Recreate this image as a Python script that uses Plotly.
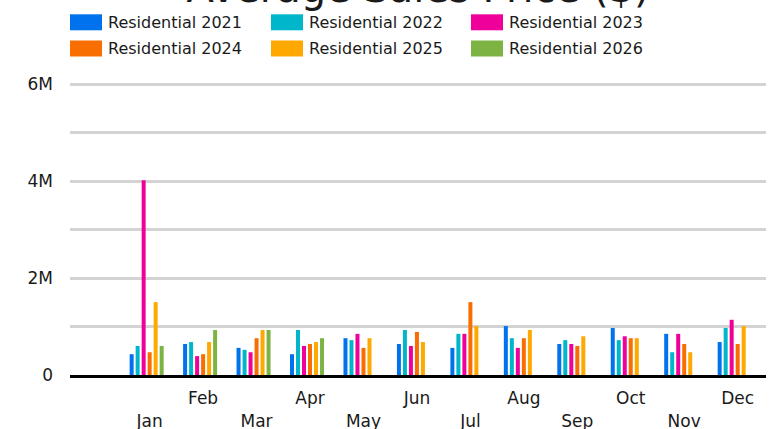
import plotly.graph_objects as go

# Monthly average residential sales price, one series per year
months = ["Jan", "Feb", "Mar", "Apr", "May", "Jun",
          "Jul", "Aug", "Sep", "Oct", "Nov", "Dec"]

series_names = ["Residential 2021", "Residential 2022", "Residential 2023",
                "Residential 2024", "Residential 2025", "Residential 2026"]

price_2021 = [430000, 640000, 560000, 430000, 760000, 640000,
              560000, 1010000, 640000, 970000, 850000, 680000]
price_2022 = [600000, 680000, 520000, 930000, 720000, 930000,
              850000, 760000, 720000, 720000, 470000, 970000]
price_2023 = [4020000, 390000, 470000, 600000, 850000, 600000,
              850000, 560000, 640000, 800000, 850000, 1140000]
price_2024 = [470000, 430000, 760000, 640000, 560000, 890000,
              1505000, 760000, 600000, 760000, 640000, 640000]
price_2025 = [1505000, 680000, 930000, 680000, 760000, 680000,
              1010000, 930000, 800000, 760000, 470000, 1010000]
price_2026 = [600000, 930000, 930000, 760000, None, None,
              None, None, None, None, None, None]

series_values = [price_2021, price_2022, price_2023,
                 price_2024, price_2025, price_2026]

series_colors = ["#0072EE", "#00B6CB", "#F0009B", "#F96E00", "#FFA800", "#7CB342"]

y_tick_vals = [0, 2000000, 4000000, 6000000]
y_tick_text = ["0", "2M", "4M", "6M"]

FONT = "DejaVu Sans"
TEXT = "#1a1a1a"

W, H = 776, 429
M_L, M_R, M_T, M_B = 70, 10, 83, 54
PW, PH = W - M_L - M_R, H - M_T - M_B

# each month holds seven equal slots; bars fill the first six
slot = 0.1123
bar_w = 0.0748
group_left = -3.5 * slot

fig = go.Figure()
for i, (name, vals, col) in enumerate(zip(series_names, series_values, series_colors)):
    fig.add_trace(go.Bar(
        x=months, y=vals, name=name,
        marker=dict(color=col, line=dict(width=0)),
        width=bar_w,
        offset=group_left + i * slot + (slot - bar_w) / 2,
        showlegend=False,
    ))

# two-row legend drawn as swatches and labels (pixel positions -> paper)
def px_x(x):
    return (x - M_L) / PW

def px_y(y):
    return 1 + (M_T - y) / PH

legend_cols = [70, 271, 471]
legend_rows = [22.3, 48.5]
for i, (name, col) in enumerate(zip(series_names, series_colors)):
    cx = legend_cols[i % 3]
    cy = legend_rows[i // 3]
    fig.add_shape(type="rect", xref="paper", yref="paper",
                  x0=px_x(cx), x1=px_x(cx + 32),
                  y0=px_y(cy + 8), y1=px_y(cy - 8),
                  fillcolor=col, line=dict(width=0), layer="above")
    fig.add_annotation(xref="paper", yref="paper",
                       x=px_x(cx + 36), y=px_y(cy),
                       xanchor="left", yanchor="middle", showarrow=False,
                       text=name, font=dict(family=FONT, size=16, color=TEXT))

# alternate month labels between two rows
tick_text = [("<br>" + m) if k % 2 == 0 else m for k, m in enumerate(months)]

fig.update_layout(
    width=W, height=H,
    margin=dict(l=M_L, r=M_R, t=M_T, b=M_B),
    paper_bgcolor="white", plot_bgcolor="white",
    barmode="group",
    title=dict(text="Average Sales Price ($)",
               font=dict(family=FONT, size=40, color=TEXT),
               x=0.5, xref="paper", xanchor="center",
               y=1 - 2 / H, yref="container", yanchor="bottom"),
    font=dict(family=FONT, size=17, color=TEXT),
    xaxis=dict(type="category", range=[-1.49, 11.53], automargin=False,
               tickmode="array", tickvals=months, ticktext=tick_text,
               showgrid=False, showline=True, linecolor="black", linewidth=3,
               ticks="", ticklabelstandoff=6,
               tickfont=dict(family=FONT, size=17, color=TEXT)),
    yaxis=dict(range=[0, 6030000], automargin=False, tickmode="array",
               tickvals=y_tick_vals, ticktext=y_tick_text,
               showgrid=True, gridcolor="#D3D3D3", gridwidth=3,
               minor=dict(dtick=1000000, showgrid=True, gridcolor="#D3D3D3", gridwidth=3),
               zeroline=False, showline=False, ticks="",
               ticklabelstandoff=16,
               tickfont=dict(family=FONT, size=17, color=TEXT)),
)

fig.write_html("out.html")
